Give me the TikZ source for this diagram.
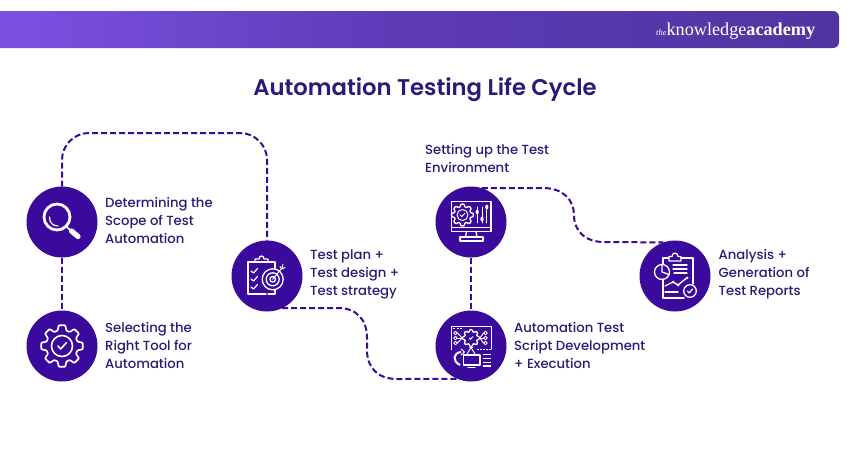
\documentclass[tikz,border=0pt]{standalone}
\usepackage{fontspec}
\setmainfont{Poppins Medium}
\newfontfamily\titlefont{Poppins SemiBold}
\newfontfamily\logofont{Liberation Serif}
\definecolor{disc}{HTML}{3A0A9C}
\definecolor{ink}{HTML}{2D1A78}
\definecolor{bandL}{HTML}{9060FF}
\definecolor{bandM}{HTML}{5C3AB4}
\definecolor{bandR}{HTML}{43308E}
\pgfdeclarehorizontalshading{bandshade}{100bp}{color(0bp)=(bandL); color(8bp)=(bandL); color(28bp)=(bandL!55!bandM); color(50bp)=(bandM); color(100bp)=(bandR)}
\tikzset{
  disc/.style={circle,fill=disc,minimum size=71pt,inner sep=0pt,outer sep=0pt},
  link/.style={draw=disc,line width=2pt,dash pattern=on 6pt off 3pt},
  lab/.style={anchor=west,align=left,text=ink,font=\fontsize{13.2}{18}\selectfont,inner sep=0pt},
  ic/.style={draw=white,line width=1.3pt,fill=none,line join=round,line cap=round},
  icthin/.style={draw=white,line width=0.95pt,fill=none,line join=round,line cap=round},
}
\newcommand{\gearshape}[3]{% center, outer, inner
  \draw[ic,rounded corners=0.8pt,shift={#1}] (-16:#3)
    \foreach \a in {0,45,...,315} {-- (\a-16:#3) -- (\a-9:#2) -- (\a+9:#2) -- (\a+16:#3)} -- cycle;}
\newcommand{\checkmk}[3]{\draw[ic,shift={#1},scale=#2,#3] (-3,0) -- (-1,2.2) -- (3.2,-2.4);}
\begin{document}
\begin{tikzpicture}[x=1pt,y=-1pt]
\useasboundingbox (0,0) rectangle (850,450);
\fill[white] (0,0) rectangle (850,450);
\shade[shading=bandshade,rounded corners=6pt] (-8,11) -- (839,11) -- (839,48) -- (-8,48) -- cycle;
\node[inner sep=0pt,anchor=base west,text=white] (logo) at (656,35)
  {\logofont\fontsize{8.5}{8}\selectfont\itshape the\fontsize{18.2}{17}\selectfont\upshape knowledge\bfseries academy};
\node[inner sep=0pt,text=ink] (title) at (425,90) {\titlefont\fontsize{22.7}{28}\selectfont Automation Testing Life Cycle};

\node[disc] (c1) at (62,222) {};
\node[disc] (c2) at (62,346) {};
\node[disc] (c3) at (267,276) {};
\node[disc] (c4) at (471,222) {};
\node[disc] (c5) at (471,346) {};
\node[disc] (c6) at (675,276) {};

\coordinate (tl) at (62,133);
\coordinate (tr) at (267,133);
\draw[link,rounded corners=27pt] (c1.north) -- (tl) -- (tr) -- (c3.north);
\draw[link] (c1.south) -- (c2.north);
\draw[link] (c4.south) -- (c5.north);
\draw[link] (c3.-65) -- (338,308) .. controls (357,308) and (367,320) .. (367,338) -- (367,350) .. controls (367,368) and (378,379) .. (397,379) -- (c5.-112);
\draw[link] (c4.72) -- (543,188) .. controls (563,188) and (574,200) .. (574,215) .. controls (574,231) and (585,242) .. (604,242) -- (c6.109);

\node[lab] (t1) at (105,220) {Determining the\\Scope of Test\\Automation};
\node[lab] (t2) at (105,345) {Selecting the\\Right Tool for\\Automation};
\node[lab] (t3) at (310,274.5) {Test plan +\\Test design +\\Test strategy};
\node[lab] (t4) at (425,158) {Setting up the Test\\Environment};
\node[lab] (t5) at (514,345) {Automation Test\\Script Development\\+ Execution};
\node[lab] (t6) at (718.5,274.5) {Analysis +\\Generation of\\Test Reports};

% magnifier
\begin{scope}[shift={(c1.center)}]
  \draw[draw=white,line width=2.8pt] (-5,-5) circle[radius=13];
  \draw[icthin,line width=1.2pt] (-12.5,-5) .. controls (-12.5,1) and (-9,4) .. (-4,4);
  \draw[draw=white,line width=1.6pt] (4,4) -- (8,8);
  \draw[draw=white,line width=5.2pt,line cap=round] (9.5,9) -- (16,14.5);
\end{scope}

% gear + check
\begin{scope}[shift={(c2.center)}]
  \begin{scope}[ic/.append style={line width=1.7pt}]
  \gearshape{(0,0)}{21}{16}
  \end{scope}
  \draw[ic,line width=1.6pt] (0,0) circle[radius=10.5];
  \checkmk{(0,0)}{1.35}{line width=1.6pt}
\end{scope}

% clipboard + target
\begin{scope}[shift={(c3.center)}]
  \draw[ic] (-1,18) -- (-19,18) -- (-19,-14) -- (8,-14) -- (8,-7);
  \draw[ic] (-12,-14) -- (-12,-17) -- (-8,-17) .. controls (-8,-21) and (-3,-21) .. (-3,-17) -- (1,-17) -- (1,-14) ;
  \foreach \y in {-5,3,11} {
    \draw[icthin,line width=1.2pt] (-16,\y) -- (-13.5,\y+2) -- (-9.5,\y-2.5);
  }
  \draw[ic] (5.7,3.3) circle[radius=10.5];
  \draw[ic] (5.7,3.3) circle[radius=6.5];
  \draw[ic] (5.7,3.3) circle[radius=2.8];
  \draw[icthin] (5.7,3.3) -- (14.5,-7.5);
  \draw[icthin] (13,-9.5) -- (15,-7) -- (18,-8.5);
  \draw[icthin] (16,-12) -- (15,-7);
  \draw[ic] (1,18) -- (8,18) -- (8,14);
\end{scope}

% monitor
\begin{scope}[shift={(c4.center)}]
  \draw[ic] (-19.5,-20.5) rectangle (20,9.5);
  \draw[ic] (-19.5,5.5) -- (20,5.5);
  \draw[ic] (-4.5,9.5) -- (-5.5,15) (5,9.5) -- (6,15);
  \draw[ic] (-11,15) rectangle (12,19);
  \gearshape{(-8.5,-7)}{11}{8.3}
  \draw[icthin] (-8.5,-7) circle[radius=5.5];
  \checkmk{(-8.5,-7)}{0.75}{line width=0.9pt}
  \foreach \x/\k in {6.2/-3,11/4,15.8/-8} {
    \draw[icthin] (\x,-15) -- (\x,1);
    \fill[white] (\x,\k-7) ellipse[x radius=1.6,y radius=2.4];
  }
\end{scope}

% script window
\begin{scope}[shift={(c5.center)}]
  \draw[icthin] (-19.5,4) -- (-19.5,-19.5) -- (20,-19.5) -- (20,3);
  \draw[dash pattern=on 2pt off 1.5pt,draw=white,line width=1pt] (-18,-17.2) -- (-8,-17.2);
  \gearshape{(0,-8)}{8.5}{6.3}
  \checkmk{(0,-8)}{0.6}{line width=0.9pt}
  \foreach \y in {-13,-8,-3} {
    \draw[icthin] (-15.5,\y) circle[radius=1.7];
    \draw[icthin] (-13.5,\y) -- (-9,-8);
    \draw[icthin] (14.5,\y) circle[radius=1.7];
    \draw[icthin] (12.5,\y) -- (9,-8);
  }
  \draw[draw=white,line width=2pt] (-11,19) .. controls (-19,15) and (-18,7) .. (-10,6);
  \draw[icthin] (-10,3) -- (-6.5,6) -- (-10,9);
  \draw[icthin] (0,1.5) -- (-4,8) (0,1.5) -- (4,8) (-1.5,1.5) -- (1.5,1.5);
  \draw[dash pattern=on 1.5pt off 1.5pt,draw=white,line width=1pt] (6,3.5) -- (20,3.5);
  \draw[ic] (-7.5,9) rectangle (9,19);
  \draw[ic] (-3,21.5) -- (4,21.5);
  \foreach \y in {8.5,12.5,16.5,20} \draw[draw=white,line width=1.4pt] (11.5,\y) -- (20,\y);
\end{scope}

% report clipboard
\begin{scope}[shift={(c6.center)}]
  \draw[ic] (-12,3) -- (-12,22) -- (9,22);
  \draw[ic] (-6,-18) -- (-12,-18) -- (-12,-12);
  \draw[ic] (6,-18) -- (18,-18) -- (18,8);
  \draw[ic] (-6,-15) -- (-6,-19.5) -- (-3,-19.5) .. controls (-3,-24) and (3,-24) .. (3,-19.5) -- (6,-19.5) -- (6,-15) -- cycle;
  \draw[ic] (-13,-4) circle[radius=7.5];
  \draw[ic] (-13,-11.5) -- (-13,-4) -- (-6,-1.5);
  \draw[ic] (-2,-11) -- (12,-11) (-2,-7) -- (12,-7) (-1,-3) -- (12,-3);
  \draw[ic] (-10,10) -- (-2,6) -- (3,9) -- (11,2.5);
  \foreach \p in {(-2,6),(3,9),(12,2)} \fill[white] \p circle[radius=1.5];
  \draw[ic] (-10,16) -- (3,16);
  \draw[ic] (15,15) circle[radius=6.3];
  \checkmk{(15,15)}{0.85}{line width=1.2pt}
\end{scope}
\end{tikzpicture}
\end{document}
